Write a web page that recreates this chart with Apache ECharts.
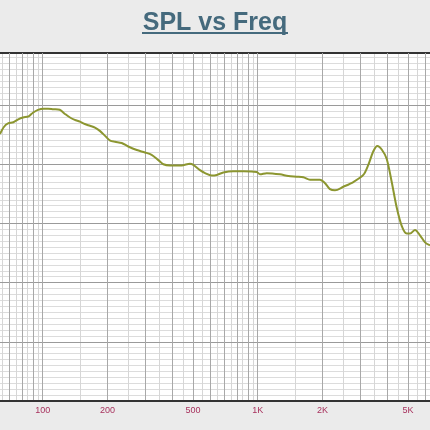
<!DOCTYPE html>
<html lang="en">
<head>
    <meta charset="UTF-8">
    <title>SPL vs Freq</title>
    <script src="https://cdn.jsdelivr.net/npm/echarts@6/dist/echarts.min.js"></script>
    <style>
        html, body { margin: 0; padding: 0; background: #ebebeb; }
    </style>
</head>
<body>
<div id="splChart" style="width: 430px;height: 430px;"></div>
</body>
<script type="text/javascript">
    // frequency (Hz) / level (dB)
    var freq = [63.3, 66, 69, 73, 77, 81, 86, 90, 95, 101,
        106, 112, 120, 127, 134, 141, 149, 157, 166, 175,
        185, 195, 206, 217, 233, 250, 274, 299, 321, 345,
        364, 391, 443, 484, 502, 539, 569, 611, 645, 692,
        770, 857, 989, 1025, 1101, 1270, 1388, 1519, 1630, 1751,
        1948, 2057, 2169, 2288, 2502, 2785, 3099, 3269, 3450, 3601,
        3775, 3982, 4201, 4431, 4675, 4933, 5110, 5391, 5688, 6000,
        6330];
    var spl = [85.1, 86.3, 86.9, 87.1, 87.6, 87.9, 88.1, 88.7, 89.2, 89.4,
        89.4, 89.3, 89.2, 88.5, 87.9, 87.5, 87.2, 86.8, 86.5, 86.2,
        85.6, 84.8, 84.0, 83.8, 83.6, 83.0, 82.4, 82.0, 81.6, 80.7,
        80.0, 79.8, 79.8, 80.1, 79.9, 79.0, 78.5, 78.1, 78.2, 78.6,
        78.8, 78.8, 78.7, 78.3, 78.5, 78.3, 78.0, 77.9, 77.8, 77.4,
        77.4, 76.8, 75.8, 75.6, 76.2, 77.0, 78.2, 79.9, 82.2, 83.1,
        82.5, 80.9, 77.0, 72.7, 69.6, 68.3, 68.3, 68.9, 68.0, 66.8,
        66.3];

    // grid lines and tick labels (Hz)
    var majorFreqs = [70, 80, 90, 100, 200, 300, 400, 500, 600, 700, 800, 900,
        1000, 2000, 3000, 4000, 5000, 6000];
    var minorFreqs = [65, 75, 85, 95, 150, 250, 350, 450, 550, 650, 750, 850, 950,
        1500, 2500, 3500, 4500, 5500];
    var labelFreqs = [100, 200, 500, 1000, 2000, 5000];

    var freqMin = 63.3, freqMax = 6330;
    var dbMin = 40, dbMax = 98.8;

    function lg(arr) {
        return arr.map(function (f) { return Math.log10(f); });
    }

    var seriesData = freq.map(function (f, i) {
        return [Math.log10(f), spl[i]];
    });

    var splChart = echarts.init(document.getElementById("splChart"));
    var options = {
        backgroundColor: '#ebebeb',
        animation: false,
        title: {
            text: 'SPL vs Freq',
            left: 'center',
            top: 6,
            textStyle: {
                color: '#456a7d',
                fontSize: 25,
                fontWeight: 'bold',
                fontFamily: 'Liberation Sans'
            }
        },
        // underline of the title
        graphic: [{
            type: 'line',
            shape: {x1: 142, y1: 33, x2: 288, y2: 33},
            style: {stroke: '#456a7d', lineWidth: 2}
        }],
        grid: {
            left: 0,
            right: 0,
            top: 53,
            bottom: 29,
            show: true,
            backgroundColor: '#ffffff',
            borderWidth: 0
        },
        xAxis: [{
            type: 'value',
            min: Math.log10(freqMin),
            max: Math.log10(freqMax),
            position: 'bottom',
            z: 1,
            axisLine: {lineStyle: {color: '#333333', width: 2}},
            axisTick: {show: false, customValues: lg(majorFreqs)},
            axisLabel: {
                customValues: lg(labelFreqs),
                color: '#a8325e',
                fontSize: 9,
                fontFamily: 'Liberation Sans',
                margin: 5,
                formatter: function (v) {
                    var f = Math.round(Math.pow(10, v));
                    return f >= 1000 ? (f / 1000) + 'K' : String(f);
                }
            },
            splitLine: {show: true, lineStyle: {color: '#a8a8a8', width: 1}}
        }, {
            type: 'value',
            min: Math.log10(freqMin),
            max: Math.log10(freqMax),
            position: 'top',
            z: 0,
            axisLine: {show: true, lineStyle: {color: '#333333', width: 2}},
            axisTick: {show: false, customValues: lg(minorFreqs)},
            axisLabel: {show: false},
            splitLine: {show: true, lineStyle: {color: '#d6d6d6', width: 1}}
        }],
        yAxis: [{
            type: 'value',
            min: dbMin,
            max: dbMax,
            interval: 10,
            z: 1,
            axisLine: {show: false},
            axisTick: {show: false},
            axisLabel: {show: false},
            splitLine: {show: true, showMinLine: false, showMaxLine: false,
                lineStyle: {color: '#9a9a9a', width: 1}}
        }, {
            type: 'value',
            min: dbMin,
            max: dbMax,
            interval: 1,
            z: 0,
            axisLine: {show: false},
            axisTick: {show: false},
            axisLabel: {show: false},
            splitLine: {show: true, showMinLine: false, showMaxLine: false,
                lineStyle: {color: '#dcdcdc', width: 1}}
        }],
        series: [{
            name: 'SPL',
            type: 'line',
            xAxisIndex: 0,
            yAxisIndex: 0,
            data: seriesData,
            smooth: 0.3,
            showSymbol: false,
            z: 3,
            lineStyle: {color: '#8c9630', width: 2}
        }]
    };
    splChart.setOption(options);
</script>
</html>
